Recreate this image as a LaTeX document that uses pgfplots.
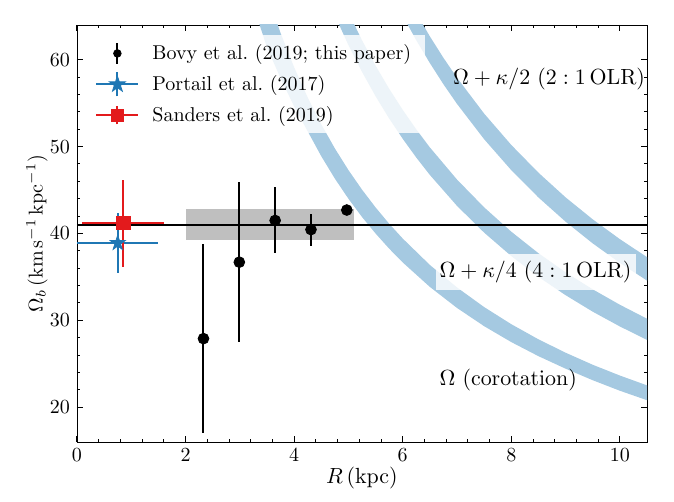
\documentclass[border=0pt]{standalone}
\usepackage{pgfplots}
\pgfplotsset{compat=1.18}
\definecolor{bandblue}{RGB}{165,201,225}
\definecolor{mplblue}{RGB}{31,119,180}
\definecolor{mplred}{RGB}{227,26,28}
\pgfdeclareplotmark{fstar}{%
 \pgfpathmoveto{\pgfpointpolar{90}{\pgfplotmarksize}}%
 \pgfpathlineto{\pgfpointpolar{126}{0.382\pgfplotmarksize}}%
 \pgfpathlineto{\pgfpointpolar{162}{\pgfplotmarksize}}%
 \pgfpathlineto{\pgfpointpolar{198}{0.382\pgfplotmarksize}}%
 \pgfpathlineto{\pgfpointpolar{234}{\pgfplotmarksize}}%
 \pgfpathlineto{\pgfpointpolar{270}{0.382\pgfplotmarksize}}%
 \pgfpathlineto{\pgfpointpolar{306}{\pgfplotmarksize}}%
 \pgfpathlineto{\pgfpointpolar{342}{0.382\pgfplotmarksize}}%
 \pgfpathlineto{\pgfpointpolar{18}{\pgfplotmarksize}}%
 \pgfpathlineto{\pgfpointpolar{54}{0.382\pgfplotmarksize}}%
 \pgfpathclose
 \pgfusepathqfillstroke}
\begin{document}
\begin{tikzpicture}
\begin{axis}[
 scale only axis, width=285pt, height=208.5pt,
 xmin=0, xmax=10.5, ymin=16, ymax=64,
 xtick={0,2,4,6,8,10}, ytick={20,30,40,50,60},
 minor x tick num=4, minor y tick num=4,
 tick align=inside, xtick pos=both, ytick pos=both,
 major tick length=3pt, minor tick length=1.7pt,
 every tick/.style={black, line width=0.5pt},
 xlabel={$R\,(\mathrm{kpc})$},
 ylabel={$\Omega_b\,(\mathrm{km\,s^{-1}\,kpc^{-1}})$},
 xlabel style={at={(axis description cs:0.5,-0.087)}, anchor=center, font=\fontsize{10.5}{12}\selectfont},
 ylabel style={at={(axis description cs:-0.070,0.5)}, anchor=center, font=\fontsize{10.3}{12}\selectfont},
 legend cell align=left,
 legend style={at={(rel axis cs:0.014,0.976)}, anchor=north west,
   fill=white, fill opacity=0.8, text opacity=1, draw=none,
   row sep=2.5pt, inner xsep=5pt, inner ysep=2.5pt},
]
% resonance bands
\addplot[fill=bandblue, draw=none, forget plot] coordinates {
(3.0,71.67)(3.25,66.15)(3.5,61.43)(3.75,57.87)(4.0,54.63)(4.25,51.76)(4.5,48.89)(4.75,46.32)(5.0,44.00)(5.25,41.90)(5.5,40.00)(5.75,38.26)(6.0,36.67)(6.5,33.85)(7.0,31.43)(7.5,29.33)(8.0,27.50)(8.5,25.88)(9.0,24.44)(9.5,23.11)(10.0,21.90)(10.5,20.81)(11.0,19.82)
(11.0,21.50)(10.5,22.52)(10.0,23.65)(9.5,24.89)(9.0,26.28)(8.5,27.82)(8.0,29.56)(7.5,31.53)(7.0,33.79)(6.5,36.38)(6.0,39.42)(5.75,41.13)(5.5,43.00)(5.25,45.05)(5.0,47.30)(4.75,49.79)(4.5,52.56)(4.25,55.65)(4.0,59.13)(3.75,63.07)(3.5,67.57)(3.25,72.77)
} --cycle;
\addplot[fill=bandblue, draw=none, forget plot] coordinates {
(4.5,68.89)(4.75,65.11)(5.0,61.69)(5.25,58.61)(5.5,55.80)(5.75,53.24)(6.0,50.90)(6.25,48.74)(6.5,46.74)(7.0,43.18)(7.5,40.10)(8.0,37.40)(8.5,35.01)(9.0,32.90)(9.5,31.00)(10.0,29.30)(10.5,27.75)(11.0,26.35)
(11.0,28.74)(10.5,30.19)(10.0,31.80)(9.5,33.57)(9.0,35.53)(8.5,37.73)(8.0,40.21)(7.5,43.01)(7.0,46.21)(6.5,49.91)(6.25,51.98)(6.0,54.23)(5.75,56.66)(5.5,59.32)(5.25,62.24)(5.0,65.44)(4.75,68.98)
} --cycle;
\addplot[fill=bandblue, draw=none, forget plot] coordinates {
(5.75,68.19)(6.0,65.09)(6.25,62.24)(6.5,59.62)(6.75,57.18)(7.0,54.92)(7.5,50.85)(8.0,47.29)(8.5,44.15)(9.0,41.36)(9.5,38.86)(10.0,36.62)(10.5,34.58)(11.0,32.73)
(11.0,35.41)(10.5,37.28)(10.0,39.35)(9.5,41.63)(9.0,44.16)(8.5,47.00)(8.0,50.19)(7.5,53.80)(7.0,57.93)(6.75,60.22)(6.5,62.69)(6.25,65.36)(6.0,68.25)
} --cycle;
% gray band and mean line
\addplot[fill=gray!50, draw=none, forget plot] coordinates {(2.0,39.2)(5.1,39.2)(5.1,42.8)(2.0,42.8)} --cycle;
\addplot[black, line width=1pt, forget plot] coordinates {(0,41.0)(10.5,41.0)};
% Bovy et al.
\addplot[only marks, mark=*, mark size=2.7pt, black, forget plot,
  error bars/.cd, y dir=both, y explicit, error mark=none,
  error bar style={line width=1pt, black}]
 coordinates {(2.33,27.9) +- (0,10.9) (2.99,36.7) +- (0,9.2) (3.65,41.5) +- (0,3.8) (4.31,40.45) +- (0,1.85) (4.97,42.7) +- (0,0)};
% Portail et al.
\addplot[only marks, mark=fstar, mark size=3.9pt, mplblue, mark options={fill=mplblue, draw=mplblue}, forget plot,
  error bars/.cd, x dir=both, x explicit, y dir=both, y explicit, error mark=none,
  error bar style={line width=1pt, mplblue}]
 coordinates {(0.75,38.9) +- (0.75,3.5)};
% Sanders et al.
\addplot[only marks, mark=square*, mark size=3.4pt, mplred, mark options={fill=mplred, draw=mplred}, forget plot,
  error bars/.cd, x dir=both, x explicit, y dir=both, y explicit, error mark=none,
  error bar style={line width=1pt, mplred}]
 coordinates {(0.85,41.2) +- (0.75,5.0)};
% legend
\addlegendimage{legend image code/.code={
  \path[draw=none] (0pt,0pt) -- (26pt,0pt);
  \draw[black, line width=1pt, draw opacity=1] (10.5pt,-5.2pt) -- (10.5pt,5.2pt);
  \fill[black, fill opacity=1] (10.5pt,0pt) circle (1.9pt);}}
\addlegendentry{Bovy et al.\ (2019; this paper)}
\addlegendimage{legend image code/.code={
  \path[draw=none] (0pt,0pt) -- (26pt,0pt);
  \draw[mplblue, line width=1pt, draw opacity=1] (0pt,0pt) -- (21pt,0pt);
  \draw[mplblue, line width=1pt, draw opacity=1] (10.5pt,-6pt) -- (10.5pt,6pt);
  \draw[mplblue, fill=mplblue, fill opacity=1, draw opacity=1] plot[mark=fstar, mark size=4.2pt] coordinates {(10.5pt,0pt)};}}
\addlegendentry{Portail et al.\ (2017)}
\addlegendimage{legend image code/.code={
  \path[draw=none] (0pt,0pt) -- (26pt,0pt);
  \draw[mplred, line width=1pt, draw opacity=1] (0pt,0pt) -- (21pt,0pt);
  \draw[mplred, line width=1pt, draw opacity=1] (10.5pt,-4.5pt) -- (10.5pt,4.5pt);
  \fill[mplred, fill opacity=1] (7.5pt,-3pt) rectangle (13.5pt,3pt);}}
\addlegendentry{Sanders et al.\ (2019)}
% labels
\node[anchor=east, inner xsep=0pt, inner ysep=3.5pt, font=\fontsize{10.6}{13}\selectfont]
  at (axis cs:10.47,57.8) {$\Omega+\kappa/2\ (2:1\,\mathrm{OLR})$};
\node[anchor=west, fill=white, fill opacity=0.8, text opacity=1, inner xsep=2pt, inner ysep=3.5pt, font=\fontsize{10.6}{13}\selectfont]
  at (axis cs:6.60,35.6) {$\Omega+\kappa/4\ (4:1\,\mathrm{OLR})$};
\node[anchor=west, inner xsep=2pt, inner ysep=3.5pt, font=\fontsize{10.6}{13}\selectfont]
  at (axis cs:6.60,23.1) {$\Omega\ (\mathrm{corotation})$};
\end{axis}
\pgfresetboundingbox
\path ([xshift=-38.5pt,yshift=-30pt]current axis.south west) rectangle ([xshift=13.5pt,yshift=12.5pt]current axis.north east);
\end{tikzpicture}
\end{document}
